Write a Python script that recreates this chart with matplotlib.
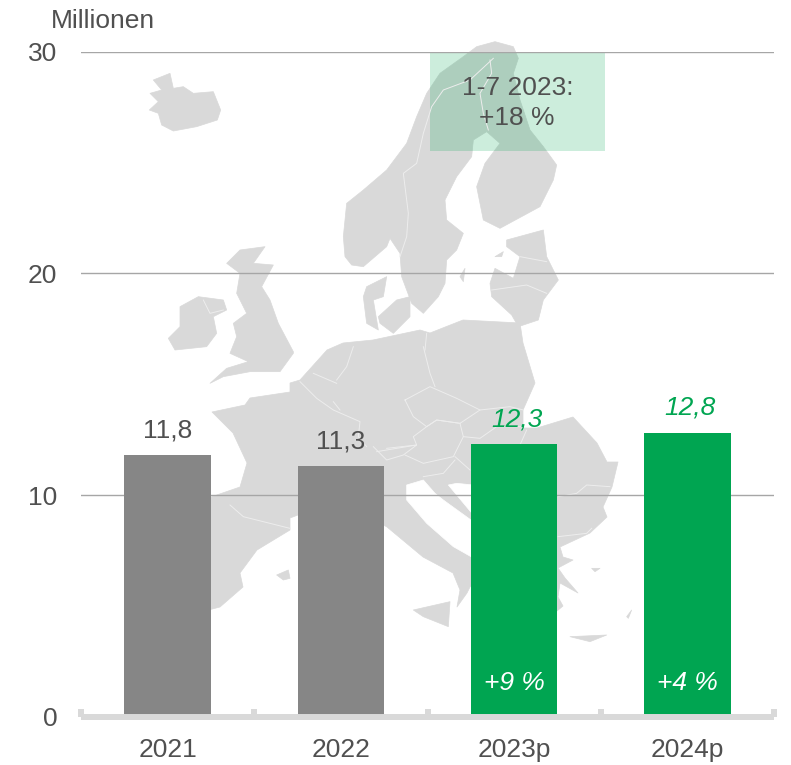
import matplotlib
matplotlib.use("Agg")
import matplotlib.pyplot as plt
from matplotlib.patches import Polygon, Rectangle

plt.rcParams['font.family'] = ['Liberation Sans', 'DejaVu Sans']

years = ["2021", "2022", "2023p", "2024p"]
values = [11.8, 11.3, 12.3, 12.8]
value_labels = ["11,8", "11,3", "12,3", "12,8"]
growth = [None, None, "+9 %", "+4 %"]
yticks = [0, 10, 20, 30]

GREY = "#868686"
GREEN = "#00A551"
TEXT = "#505050"
LAND = "#D9D9D9"
fs = 19


def z1(pts):
    return [(130 + x / 3, 30 + y / 3) for x, y in pts]


def z2(pts):
    return [(190 + x / 3, 330 + y / 3) for x, y in pts]


land = [
    z1([(70, 150), (120, 130), (130, 175), (160, 170), (190, 190), (250, 185), (272, 240), (262, 270),
        (200, 290), (130, 303), (95, 285), (85, 250), (58, 240), (85, 215), (60, 190), (95, 180)]),  # iceland
    z1([(645, 680), (640, 620), (650, 520), (700, 480), (770, 420), (830, 340), (860, 260), (890, 190),
        (930, 130), (1000, 80), (1040, 50), (1095, 35), (1150, 50), (1165, 85), (1150, 130), (1170, 210),
        (1200, 300), (1240, 350), (1280, 405), (1270, 450), (1230, 530), (1110, 595), (1060, 570),
        (1040, 470), (1065, 400), (1110, 340), (1070, 305), (1030, 330), (1025, 380), (980, 440),
        (945, 510), (950, 570), (1000, 610), (980, 660), (950, 690), (945, 760), (925, 800), (880, 850),
        (845, 820), (815, 740), (810, 670), (780, 625), (770, 650), (700, 710), (665, 705)]),  # scandinavia
    z1([(1130, 630), (1240, 600), (1250, 680), (1285, 750), (1240, 810), (1225, 870), (1165, 890),
        (1145, 855), (1085, 800), (1080, 760), (1095, 715), (1150, 745), (1170, 680), (1130, 650)]),  # baltics
    z1([(330, 660), (405, 650), (370, 700), (430, 705), (395, 770), (420, 810), (445, 880), (490, 965)])
    + z2([(310, 70), (270, 125), (180, 125), (100, 140), (60, 160), (110, 115), (175, 95), (120, 70)])
    + z1([(320, 920), (310, 880), (350, 850), (320, 790), (330, 730), (290, 700)]),  # britain
    z1([(150, 830), (205, 800), (280, 810), (290, 840), (250, 860), (260, 910), (230, 950), (135, 960),
        (115, 925), (150, 890)]),  # ireland
    z1([(710, 770), (770, 740), (760, 800), (730, 810), (745, 900), (710, 880), (700, 800)]),  # jutland
    z1([(745, 860), (800, 810), (840, 800), (840, 860), (790, 910), (750, 880)]),
    z2([(670, 840), (780, 815), (775, 890), (700, 860)]),  # sicily
    z2([(260, 735), (295, 720), (300, 745), (280, 750)]),
    z2([(1140, 920), (1250, 915), (1200, 935)]),  # crete
    z2([(1205, 715), (1230, 715), (1215, 725)]),
    z2([(1310, 860), (1325, 840), (1315, 865)]),
    z1([(990, 740), (1005, 715), (1000, 755)]),
    z1([(1095, 680), (1120, 665), (1115, 680)]),
    [(212, 412), (245, 405), (250, 398), (290, 392), (290, 383), (300, 380), (327, 350), (343, 343),
     (373, 340), (420, 330), (430, 333), (463, 320), (520, 323), (523, 343), (535, 383), (523, 410),
     (523, 428), (537, 428), (573, 417), (597, 443), (607, 462), (618, 462), (612, 487), (603, 507),
     (607, 517), (590, 533), (560, 547), (563, 557), (573, 560), (558, 568), (565, 578), (578, 593),
     (560, 583), (558, 597), (563, 606), (540, 625), (490, 620), (480, 575), (470, 587), (467, 593),
     (457, 607), (460, 590), (453, 573), (423, 557), (387, 527), (340, 500), (298, 515), (290, 518),
     (290, 530), (257, 550), (240, 573), (243, 587), (220, 607), (170, 620), (150, 520), (211, 497),
     (240, 487), (247, 463), (233, 433)],  # mainland
]

holes = [
    z2([(650, 465), (700, 450), (735, 490), (760, 510), (843, 570), (843, 680), (790, 650), (710, 580),
        (650, 510)]),  # adriatic
    z2([(775, 465), (800, 460), (850, 465), (850, 555)]),
]

borders = [
    z2([(330, 155), (380, 205), (430, 240), (510, 275), (505, 320), (530, 350)]),
    z2([(550, 350), (590, 390), (640, 375), (680, 345), (590, 355)]),
    z2([(560, 365), (680, 345), (670, 320), (710, 290), (740, 270), (810, 280)]),
    z2([(645, 210), (720, 170), (800, 205), (870, 240), (810, 280), (740, 270), (710, 290), (670, 260),
        (645, 210)]),
    z2([(700, 50), (720, 130), (735, 170)]),
    z2([(870, 240), (960, 230), (1000, 240)]),
    z2([(645, 375), (700, 400), (790, 380), (820, 320), (810, 280)]),
    z2([(820, 320), (870, 325), (920, 290), (1000, 290)]),
    z2([(990, 345), (1010, 300)]),
    z2([(700, 440), (760, 430), (795, 390)]),
    z2([(795, 380), (840, 420)]),
    z2([(1104, 500), (1160, 490), (1190, 465), (1260, 470)]),
    z2([(1104, 620), (1190, 610), (1205, 595)]),
    z2([(120, 525), (160, 560), (240, 580), (300, 595)]),
    z2([(490, 50), (470, 110), (440, 150)]),
    z2([(370, 130), (440, 160)]),
    z2([(430, 215), (450, 240)]),
    z1([(1090, 85), (1020, 150), (940, 180), (905, 230), (880, 310), (860, 400), (820, 430), (835, 550),
        (830, 620), (810, 680)]),
    z1([(1080, 90), (1085, 130), (1050, 190), (1060, 250), (1075, 300)]),
    z1([(1170, 680), (1250, 695)]),
    z1([(1085, 780), (1190, 765), (1250, 790)]),
    z1([(890, 910), (885, 960)]),
    z1([(220, 810), (240, 850), (280, 840)]),
]

fig = plt.figure(figsize=(7.91, 7.65), dpi=100, facecolor='w')

# background map, in pixel coordinates of the figure
bg = fig.add_axes([0, 0, 1, 1], zorder=0)
bg.set_xlim(0, 791)
bg.set_ylim(765, 0)
bg.axis('off')
for pts in land:
    bg.add_patch(Polygon(pts, closed=True, facecolor=LAND, edgecolor=LAND, linewidth=0.5, joinstyle='round'))
for pts in holes:
    bg.add_patch(Polygon(pts, closed=True, facecolor='w', edgecolor='w', linewidth=0.5))
for pts in borders:
    bg.plot(*zip(*pts), color='#EDEDED', linewidth=0.7)
bg.add_patch(Rectangle((430, 52), 175, 99, facecolor=GREEN, alpha=0.2, edgecolor='none'))

ax = fig.add_axes([81 / 791, 1 - 716.7 / 765, 693 / 791, 665 / 765], zorder=1)
ax.patch.set_visible(False)
colors = [GREY, GREY, GREEN, GREEN]
ax.bar(range(4), values, width=0.5, color=colors, zorder=3)

ax.set_xlim(-0.5, 3.5)
ax.set_ylim(0, 30)
ax.set_yticks(yticks)
ax.set_xticks(range(4))
ax.set_xticklabels(years)
ax.set_xticks([-0.5, 0.5, 1.5, 2.5, 3.5], minor=True)
ax.grid(axis='y', color='#A6A6A6', linewidth=1.0, zorder=1)
ax.set_axisbelow(True)
for s in ['top', 'left', 'right']:
    ax.spines[s].set_visible(False)
ax.spines['bottom'].set_color(LAND)
ax.spines['bottom'].set_linewidth(4.3)
ax.spines['bottom'].set_capstyle('butt')
ax.spines['bottom'].set_zorder(4)
ax.tick_params(axis='y', length=0, pad=17, labelsize=fs, labelcolor=TEXT)
ax.tick_params(axis='x', which='major', length=0, pad=15, labelsize=fs, labelcolor=TEXT)
ax.tick_params(axis='x', which='minor', direction='in', length=6, width=4.3, color=LAND)

for i, v in enumerate(values):
    is_fc = growth[i] is not None
    ax.annotate(value_labels[i], (i, v), xytext=(2 if is_fc else 0, 18), textcoords='offset points',
                ha='center', va='center', fontsize=fs, color=GREEN if is_fc else TEXT,
                style='italic' if is_fc else 'normal', zorder=5)
    if is_fc:
        ax.annotate(growth[i], (i, 0), xytext=(0, 24.5), textcoords='offset points', ha='center',
                    va='center', fontsize=fs, color='w', style='italic', zorder=5)

fig.text(51 / 791, 1 - 21 / 765, "Millionen", ha='left', va='center', fontsize=fs, color=TEXT)
fig.text(518 / 791, 1 - 88 / 765, "1-7 2023:", ha='center', va='center', fontsize=fs, color=TEXT)
fig.text(517 / 791, 1 - 118 / 765, "+18 %", ha='center', va='center', fontsize=fs, color=TEXT)

fig.savefig("out.png", dpi=100)
